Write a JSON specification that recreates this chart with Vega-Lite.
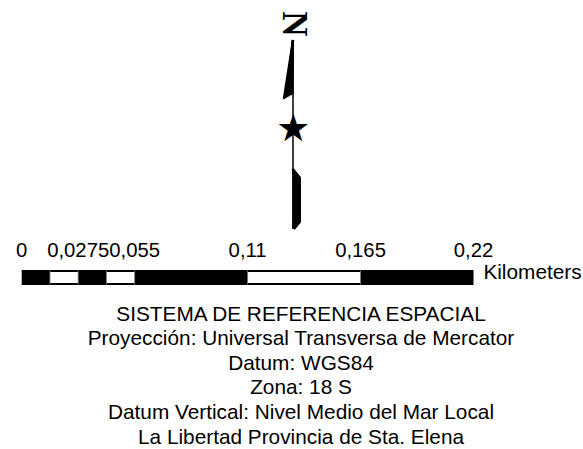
{
  "$schema": "https://vega.github.io/schema/vega-lite/v6.json",
  "width": 583,
  "height": 449,
  "padding": 0,
  "autosize": {"type": "none"},
  "background": "white",
  "config": {"view": {"stroke": null}},
  "layer": [
    {
      "data": {"values": [{"a": 0, "b": 0.22, "y": 270, "y2": 285}]},
      "mark": {"type": "rect", "color": "black"},
      "encoding": {
        "x": {"field": "a", "type": "quantitative", "scale": {"domain": [0, 0.22], "range": [21.7, 473.5], "nice": false, "zero": false}, "axis": null},
        "x2": {"field": "b"},
        "y": {"field": "y", "type": "quantitative", "scale": {"domain": [0, 449], "range": [0, 449], "nice": false, "zero": false}, "axis": null},
        "y2": {"field": "y2"}
      }
    },
    {
      "data": {"values": [
        {"a": 0.01375, "b": 0.0275, "y": 272, "y2": 283},
        {"a": 0.04125, "b": 0.055, "y": 272, "y2": 283},
        {"a": 0.11, "b": 0.165, "y": 272, "y2": 283}
      ]},
      "mark": {"type": "rect", "color": "white"},
      "encoding": {
        "x": {"field": "a", "type": "quantitative", "scale": {"domain": [0, 0.22], "range": [21.7, 473.5], "nice": false, "zero": false}, "axis": null},
        "x2": {"field": "b"},
        "y": {"field": "y", "type": "quantitative", "scale": {"domain": [0, 449], "range": [0, 449], "nice": false, "zero": false}, "axis": null},
        "y2": {"field": "y2"}
      }
    },
    {
      "data": {"values": [
        {"k": 0.01375, "y": 270, "y2": 285},
        {"k": 0.0275, "y": 270, "y2": 285},
        {"k": 0.04125, "y": 270, "y2": 285},
        {"k": 0.055, "y": 270, "y2": 285},
        {"k": 0.11, "y": 270, "y2": 285},
        {"k": 0.165, "y": 270, "y2": 285}
      ]},
      "mark": {"type": "rule", "color": "#777777", "strokeWidth": 0.8},
      "encoding": {
        "x": {"field": "k", "type": "quantitative", "scale": {"domain": [0, 0.22], "range": [21.7, 473.5], "nice": false, "zero": false}, "axis": null},
        "y": {"field": "y", "type": "quantitative", "scale": {"domain": [0, 449], "range": [0, 449], "nice": false, "zero": false}, "axis": null},
        "y2": {"field": "y2"}
      }
    },
    {
      "data": {"values": [
        {"k": 0, "t": "0", "y": 257},
        {"k": 0.0275, "t": "0,0275", "y": 257},
        {"k": 0.055, "t": "0,055", "y": 257},
        {"k": 0.11, "t": "0,11", "y": 257},
        {"k": 0.165, "t": "0,165", "y": 257},
        {"k": 0.22, "t": "0,22", "y": 257}
      ]},
      "mark": {"type": "text", "font": "Liberation Sans", "fontSize": 20.3, "align": "center", "baseline": "alphabetic", "color": "black"},
      "encoding": {
        "x": {"field": "k", "type": "quantitative", "scale": {"domain": [0, 0.22], "range": [21.7, 473.5], "nice": false, "zero": false}, "axis": null},
        "y": {"field": "y", "type": "quantitative", "scale": {"domain": [0, 449], "range": [0, 449], "nice": false, "zero": false}, "axis": null},
        "text": {"field": "t", "type": "nominal"}
      }
    },
    {
      "data": {"values": [
        {"t": "SISTEMA DE REFERENCIA ESPACIAL", "x": 301, "y": 320.7},
        {"t": "Proyección: Universal Transversa de Mercator", "x": 301, "y": 345.3},
        {"t": "Datum: WGS84", "x": 301, "y": 369.9},
        {"t": "Zona: 18 S", "x": 301, "y": 394.4},
        {"t": "Datum Vertical: Nivel Medio del Mar Local", "x": 301, "y": 419},
        {"t": "La Libertad Provincia de Sta. Elena", "x": 301, "y": 443.6},
        {"t": "Kilometers", "x": 532.5, "y": 278.5}
      ]},
      "mark": {"type": "text", "font": "Liberation Sans", "fontSize": 20.8, "align": "center", "baseline": "alphabetic", "color": "black"},
      "encoding": {
        "x": {"field": "x", "type": "quantitative", "scale": {"domain": [0, 583], "range": [0, 583], "nice": false, "zero": false}, "axis": null},
        "y": {"field": "y", "type": "quantitative", "scale": {"domain": [0, 449], "range": [0, 449], "nice": false, "zero": false}, "axis": null},
        "text": {"field": "t", "type": "nominal"}
      }
    },
    {
      "data": {"values": [{"label": "N", "x": 294, "y": 24}]},
      "mark": {"type": "text", "font": "Liberation Serif", "fontWeight": "bold", "fontSize": 35, "angle": 90, "align": "center", "baseline": "middle", "color": "black"},
      "encoding": {
        "x": {"field": "x", "type": "quantitative", "scale": {"domain": [0, 583], "range": [0, 583], "nice": false, "zero": false}, "axis": null},
        "y": {"field": "y", "type": "quantitative", "scale": {"domain": [0, 449], "range": [0, 449], "nice": false, "zero": false}, "axis": null},
        "text": {"field": "label", "type": "nominal"}
      }
    },
    {
      "data": {"values": [
        {"x": 293, "y": 40, "x2": 293, "y2": 229, "w": 1.5},
        {"x": 293, "y": 40, "x2": 283.8, "y2": 99, "w": 2.2},
        {"x": 293, "y": 40, "x2": 285.5, "y2": 98.1, "w": 2.2},
        {"x": 293, "y": 40, "x2": 287.3, "y2": 97.1, "w": 2.2},
        {"x": 293, "y": 40, "x2": 289.1, "y2": 96.1, "w": 2.2},
        {"x": 293, "y": 40, "x2": 290.9, "y2": 95.1, "w": 2.2},
        {"x": 293, "y": 40, "x2": 292.5, "y2": 94.3, "w": 2.2},
        {"x": 292.8, "y": 169, "x2": 293.5, "y2": 178, "w": 2},
        {"x": 292.8, "y": 169, "x2": 295.5, "y2": 178, "w": 2},
        {"x": 292.8, "y": 169, "x2": 297.5, "y2": 178, "w": 2},
        {"x": 292.8, "y": 169, "x2": 299.5, "y2": 178, "w": 2},
        {"x": 292.8, "y": 169, "x2": 300.3, "y2": 178, "w": 2},
        {"x": 294, "y": 229, "x2": 295.5, "y2": 222, "w": 2},
        {"x": 294, "y": 229, "x2": 297.5, "y2": 222, "w": 2},
        {"x": 294, "y": 229, "x2": 300, "y2": 222, "w": 2}
      ]},
      "mark": {"type": "rule", "color": "black", "strokeCap": "butt"},
      "encoding": {
        "x": {"field": "x", "type": "quantitative", "scale": {"domain": [0, 583], "range": [0, 583], "nice": false, "zero": false}, "axis": null},
        "y": {"field": "y", "type": "quantitative", "scale": {"domain": [0, 449], "range": [0, 449], "nice": false, "zero": false}, "axis": null},
        "x2": {"field": "x2"},
        "y2": {"field": "y2"},
        "strokeWidth": {"field": "w", "type": "quantitative", "scale": null}
      }
    },
    {
      "data": {"values": [
        {"x": 292.3, "x2": 301, "y": 177.5, "y2": 222.5},
        {"x": 292.3, "x2": 294.5, "y": 222, "y2": 229}
      ]},
      "mark": {"type": "rect", "color": "black"},
      "encoding": {
        "x": {"field": "x", "type": "quantitative", "scale": {"domain": [0, 583], "range": [0, 583], "nice": false, "zero": false}, "axis": null},
        "x2": {"field": "x2"},
        "y": {"field": "y", "type": "quantitative", "scale": {"domain": [0, 449], "range": [0, 449], "nice": false, "zero": false}, "axis": null},
        "y2": {"field": "y2"}
      }
    },
    {
      "data": {"values": [{"s": "★", "x": 293.3, "y": 130}]},
      "mark": {"type": "text", "font": "DejaVu Sans", "fontSize": 38, "align": "center", "baseline": "middle", "color": "black"},
      "encoding": {
        "x": {"field": "x", "type": "quantitative", "scale": {"domain": [0, 583], "range": [0, 583], "nice": false, "zero": false}, "axis": null},
        "y": {"field": "y", "type": "quantitative", "scale": {"domain": [0, 449], "range": [0, 449], "nice": false, "zero": false}, "axis": null},
        "text": {"field": "s", "type": "nominal"}
      }
    }
  ],
  "resolve": {"scale": {"x": "independent"}}
}
